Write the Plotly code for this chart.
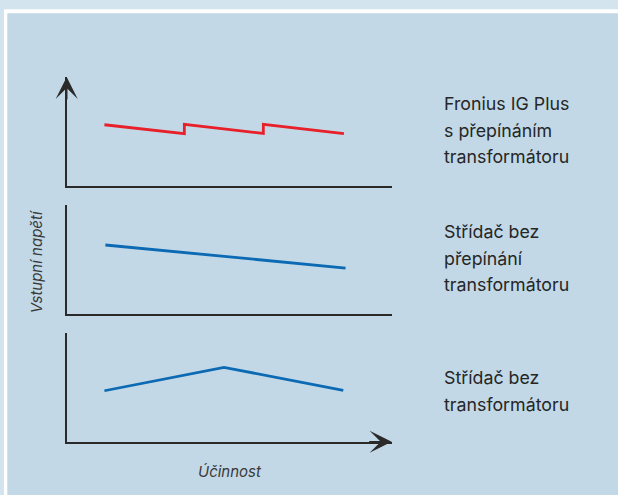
import plotly.graph_objects as go

# ---------------- data ----------------
x_label = "Účinnost"
y_label = "Vstupní napětí"

red_x = [11.6, 36.2, 36.2, 60.5, 60.5, 85.3]
red_y = [56.2, 48.0, 56.6, 48.2, 56.6, 48.0]

mid_x = [11.9, 85.8]
mid_y = [63.2, 42.0]

bot_x = [11.6, 48.4, 85.1]
bot_y = [47.0, 68.6, 47.4]

panel_labels = [
    ["Fronius IG Plus", "s přepínáním", "transformátoru"],
    ["Střídač bez", "přepínání", "transformátoru"],
    ["Střídač bez", "transformátoru"],
]

# ---------------- layout helpers ----------------
W, H = 618, 495
def px(x):
    return x / W
def py(y):
    return 1 - y / H

RED = "#e8202a"
BLUE = "#0b6ab3"
AXC = "#2a2a2a"
TXT = "#262626"
FONT = "Inter"

x_dom = [px(66.7), px(391.7)]
y_doms = [
    [py(186.0), py(77.0)],
    [py(313.7), py(205.0)],
    [py(441.7), py(333.3)],
]

fig = go.Figure()
series = [(red_x, red_y, RED), (mid_x, mid_y, BLUE), (bot_x, bot_y, BLUE)]
for i, (xs, ys, c) in enumerate(series):
    suf = "" if i == 0 else str(i + 1)
    fig.add_trace(go.Scatter(
        x=xs, y=ys, mode="lines",
        line=dict(color=c, width=2.8),
        xaxis="x" + suf, yaxis="y" + suf,
        hoverinfo="skip", showlegend=False,
    ))

ax_common = dict(showline=True, linecolor=AXC, linewidth=1.6,
                 showticklabels=False, ticks="", showgrid=False,
                 zeroline=False, range=[0, 100], fixedrange=True)

layout = dict(
    width=W, height=H, autosize=False,
    margin=dict(l=0, r=0, t=0, b=0),
    paper_bgcolor="#d4e4ef",
    plot_bgcolor="rgba(0,0,0,0)",
    showlegend=False,
)
for i in range(3):
    suf = "" if i == 0 else str(i + 1)
    layout["xaxis" + suf] = dict(domain=x_dom, anchor="y" + suf, **ax_common)
    layout["yaxis" + suf] = dict(domain=y_doms[i], anchor="x" + suf, **ax_common)
fig.update_layout(**layout)

# background frame
fig.add_shape(type="rect", xref="paper", yref="paper",
              x0=px(4), x1=1.05, y0=-0.05, y1=py(9.3),
              fillcolor="#ffffff", line=dict(width=0), layer="below")
fig.add_shape(type="rect", xref="paper", yref="paper",
              x0=px(7.3), x1=1.05, y0=-0.05, y1=py(13.3),
              fillcolor="#c2d8e6", line=dict(width=0), layer="below")

# arrows
fig.add_annotation(x=x_dom[0], y=y_doms[0][1], xref="paper", yref="paper",
                   text="", showarrow=True, ax=0, ay=24,
                   arrowhead=3, arrowsize=2.3, arrowwidth=1.6, arrowcolor=AXC)
fig.add_annotation(x=x_dom[1], y=y_doms[2][0], xref="paper", yref="paper",
                   text="", showarrow=True, ax=-24, ay=0,
                   arrowhead=3, arrowsize=2.3, arrowwidth=1.6, arrowcolor=AXC)

# right-side labels
line_centers = [[103.5, 130.2, 156.8], [231.2, 258.0, 284.2], [377.8, 404.5]]
for labels, centers in zip(panel_labels, line_centers):
    for t, cy in zip(labels, centers):
        fig.add_annotation(x=px(442), y=py(cy), xref="paper", yref="paper",
                           text=t, showarrow=False, xanchor="left", yanchor="middle",
                           font=dict(family=FONT, size=17.8, color=TXT))

# axis titles
fig.add_annotation(x=px(230), y=py(471), xref="paper", yref="paper",
                   text=x_label, showarrow=False, xanchor="center", yanchor="middle",
                   font=dict(family=FONT, size=15, color="#3a3a3a", style="italic"))
fig.add_annotation(x=px(36.7), y=py(261.5), xref="paper", yref="paper",
                   text=y_label, showarrow=False, textangle=-90,
                   xanchor="center", yanchor="middle",
                   font=dict(family=FONT, size=15, color="#3a3a3a", style="italic"))

fig.write_html("out.html",
               config={"displayModeBar": False},
               post_script="document.body.style.margin='0px';document.body.style.overflow='hidden';")
